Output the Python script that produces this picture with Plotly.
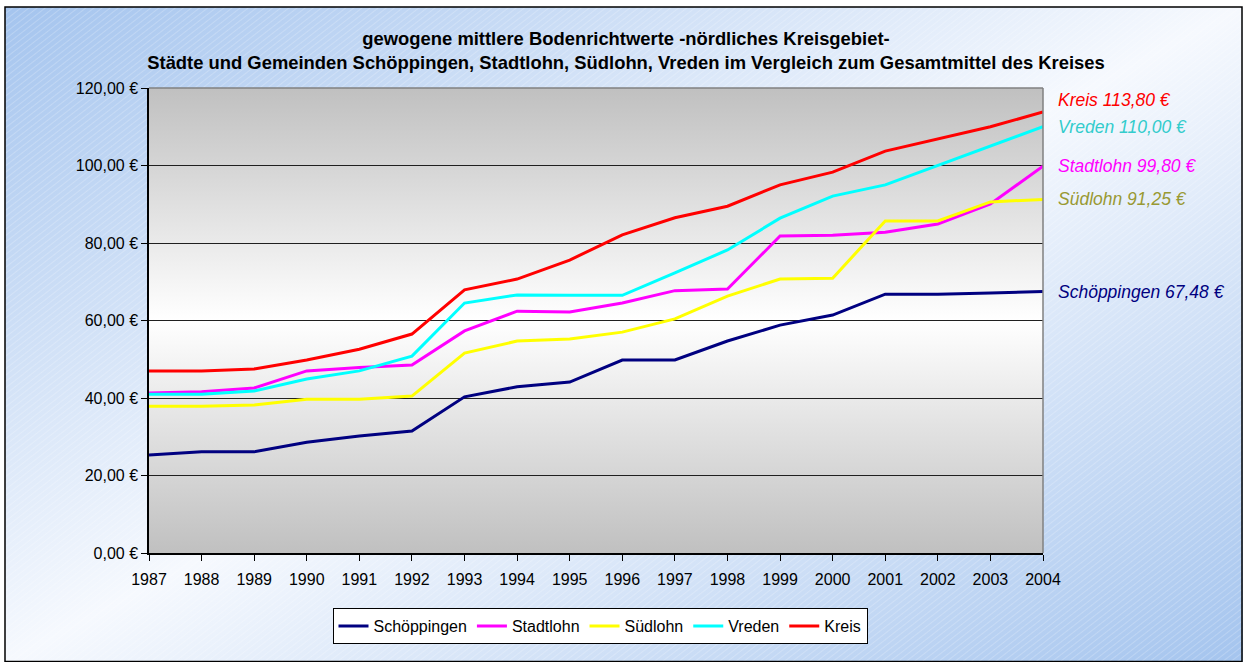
import base64
import plotly.graph_objects as go

years = list(range(1987, 2005))

schoeppingen = [25.3, 26.1, 26.1, 28.6, 30.2, 31.5, 40.3, 42.9, 44.1, 49.8,
                49.8, 54.7, 58.8, 61.4, 66.8, 66.8, 67.1, 67.48]
stadtlohn = [41.3, 41.6, 42.6, 47.0, 47.9, 48.5, 57.3, 62.4, 62.2, 64.5,
             67.7, 68.1, 81.8, 82.0, 82.8, 84.9, 90.1, 99.80]
suedlohn = [37.9, 37.9, 38.2, 39.7, 39.7, 40.5, 51.6, 54.7, 55.2, 57.0,
            60.4, 66.3, 70.7, 70.9, 85.7, 85.7, 90.6, 91.25]
vreden = [41.0, 41.0, 41.8, 44.9, 47.0, 50.8, 64.5, 66.6, 66.5, 66.5,
          72.3, 78.2, 86.4, 92.1, 95.0, 100.0, 104.9, 110.00]
kreis = [47.0, 47.0, 47.5, 49.8, 52.6, 56.5, 67.9, 70.7, 75.6, 82.1,
         86.5, 89.5, 95.0, 98.3, 103.7, 106.8, 110.0, 113.80]

y_ticks = [0, 20, 40, 60, 80, 100, 120]
y_tick_labels = ["0,00 €", "20,00 €", "40,00 €", "60,00 €", "80,00 €", "100,00 €", "120,00 €"]

series = [
    ("Schöppingen", schoeppingen, "#000080", "#000080"),
    ("Stadtlohn", stadtlohn, "#ff00ff", "#ff00ff"),
    ("Südlohn", suedlohn, "#ffff00", "#999933"),
    ("Vreden", vreden, "#00ffff", "#33cccc"),
    ("Kreis", kreis, "#ff0000", "#ff0000"),
]

FONT = "Liberation Sans, Arial, sans-serif"

# figure geometry (pixels)
W, H = 1243, 662
L, R, T, B = 149, 1043, 88, 553
PW, PH = R - L, B - T


def px_x(px):
    return (px - L) / PW


def px_y(py):
    return (B - py) / PH


def svg_uri(svg):
    return "data:image/svg+xml;base64," + base64.b64encode(svg.encode("utf-8")).decode("ascii")


# outer chart background: diagonal blue-white-blue gradient with fine stripes
bw, bh = W - 5, H - 7
outer_svg = f"""<svg xmlns="http://www.w3.org/2000/svg" width="{bw}" height="{bh}" viewBox="0 0 {bw} {bh}" preserveAspectRatio="none">
<defs>
<linearGradient id="g" x1="0" y1="0" x2="1" y2="1">
<stop offset="0" stop-color="#a4c4ee"/>
<stop offset="0.5" stop-color="#f6f9fe"/>
<stop offset="1" stop-color="#a4c4ee"/>
</linearGradient>
<pattern id="p" width="5" height="5" patternUnits="userSpaceOnUse" patternTransform="rotate(-38)">
<line x1="0" y1="0.5" x2="5" y2="0.5" stroke="#ffffff" stroke-width="0.6" stroke-opacity="0.35"/>
</pattern>
</defs>
<rect width="{bw}" height="{bh}" fill="url(#g)"/>
<rect width="{bw}" height="{bh}" fill="url(#p)"/>
</svg>"""

# plot area background: vertical gray-white-gray gradient
plot_svg = f"""<svg xmlns="http://www.w3.org/2000/svg" width="{PW}" height="{PH}" viewBox="0 0 {PW} {PH}" preserveAspectRatio="none">
<defs>
<linearGradient id="v" x1="0" y1="0" x2="0" y2="1">
<stop offset="0" stop-color="#c0c0c0"/>
<stop offset="0.5" stop-color="#ffffff"/>
<stop offset="1" stop-color="#c0c0c0"/>
</linearGradient>
</defs>
<rect width="{PW}" height="{PH}" fill="url(#v)"/>
</svg>"""

fig = go.Figure()

for name, vals, color, _ in series:
    fig.add_trace(go.Scatter(
        x=years, y=vals, name=name, mode="lines",
        line=dict(color=color, width=3),
    ))

# end-of-line value labels
annotations = []
for name, vals, _, label_color in series:
    value = vals[-1]
    text = f"{name} {value:.2f} €".replace(".", ",")
    annotations.append(dict(
        x=px_x(1056), xref="paper", y=value, yref="y",
        xanchor="left", yanchor="middle", showarrow=False,
        yshift=12 if name == "Kreis" else 0,
        text=f"<i>{text}</i>",
        font=dict(family="Liberation Sans Narrow, Arial Narrow, Liberation Sans, Arial", size=17.5, color=label_color),
    ))

fig.update_layout(
    width=W, height=H,
    margin=dict(l=L, r=W - R, t=T, b=H - B, pad=0),
    paper_bgcolor="#ffffff",
    plot_bgcolor="rgba(0,0,0,0)",
    font=dict(family=FONT, size=16, color="#000000"),
    title=dict(
        text="<b>gewogene mittlere Bodenrichtwerte -nördliches Kreisgebiet-<br>"
             "Städte und Gemeinden Schöppingen, Stadtlohn, Südlohn, Vreden im Vergleich zum Gesamtmittel des Kreises</b>",
        x=px_x(626), xref="paper", xanchor="center",
        y=1 - 45 / H, yanchor="middle",
        font=dict(family=FONT, size=18.4, color="#000000"),
    ),
    showlegend=True,
    legend=dict(
        orientation="h", x=px_x(600), xanchor="center", y=px_y(608), yanchor="top",
        bgcolor="#ffffff", bordercolor="#000000", borderwidth=1,
        font=dict(family=FONT, size=16), itemwidth=30, tracegroupgap=0,
    ),
    annotations=annotations,
    images=[
        dict(source=svg_uri(outer_svg), xref="paper", yref="paper",
             x=px_x(5), y=px_y(7), sizex=bw / PW, sizey=bh / PH,
             xanchor="left", yanchor="top", sizing="stretch", layer="below"),
        dict(source=svg_uri(plot_svg), xref="paper", yref="paper",
             x=0, y=1, sizex=1, sizey=1,
             xanchor="left", yanchor="top", sizing="stretch", layer="below"),
    ],
    shapes=[
        # chart frame
        dict(type="rect", xref="paper", yref="paper",
             x0=px_x(5), x1=px_x(1242), y0=px_y(661.5), y1=px_y(7),
             line=dict(color="#000000", width=1.5), layer="above"),
        # plot area top and right edges
        dict(type="line", xref="paper", yref="paper", x0=0, x1=1, y0=1, y1=1,
             line=dict(color="#808080", width=1.5), layer="above"),
        dict(type="line", xref="paper", yref="paper", x0=1, x1=1, y0=0, y1=1,
             line=dict(color="#808080", width=1.5), layer="above"),
    ],
)

fig.update_xaxes(
    range=[1987, 2004], tickmode="array", tickvals=years, ticktext=[str(y) for y in years],
    showgrid=False, zeroline=False, showline=True, linecolor="#000000", linewidth=1.5,
    ticks="outside", ticklen=6, tickcolor="#000000", tickfont=dict(family=FONT, size=16),
    ticklabelstandoff=5,
)
fig.update_yaxes(
    range=[0, 120], tickmode="array", tickvals=y_ticks, ticktext=y_tick_labels,
    showgrid=True, gridcolor="#202020", gridwidth=1, zeroline=False,
    showline=True, linecolor="#000000", linewidth=1.5,
    ticks="outside", ticklen=6, tickcolor="#000000", tickfont=dict(family=FONT, size=16),
)

fig.write_html("out.html")
